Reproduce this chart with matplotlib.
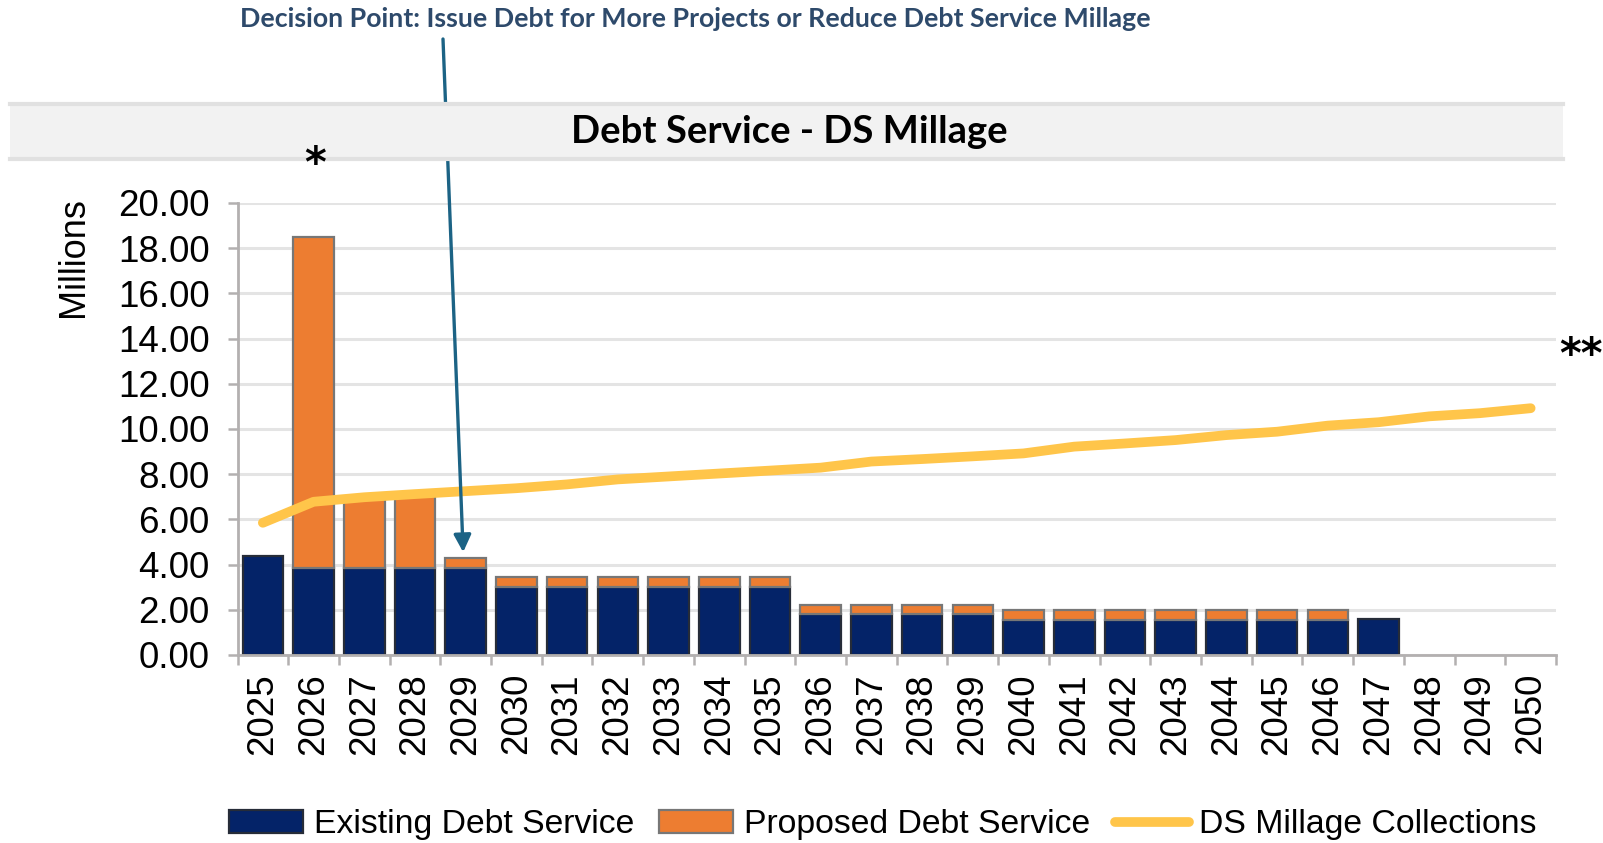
import matplotlib
matplotlib.use("Agg")
import matplotlib.pyplot as plt
from matplotlib.patches import Rectangle, Patch
from matplotlib.lines import Line2D
import numpy as np

# ---- data (millions) ----
years = [str(y) for y in range(2025, 2051)]
existing_ds = [4.40, 3.85, 3.85, 3.85, 3.85,
               3.00, 3.00, 3.00, 3.00, 3.00, 3.00,
               1.80, 1.80, 1.80, 1.80,
               1.55, 1.55, 1.55, 1.55, 1.55, 1.55, 1.55,
               1.60, 0.0, 0.0, 0.0]
proposed_ds = [0.0, 14.65, 3.10, 3.20, 0.42,
               0.46, 0.46, 0.46, 0.46, 0.46, 0.46,
               0.43, 0.43, 0.43, 0.43,
               0.43, 0.43, 0.43, 0.43, 0.43, 0.43, 0.43,
               0.0, 0.0, 0.0, 0.0]
millage_collections = [5.85, 6.78, 6.98, 7.12, 7.25, 7.38, 7.55, 7.77, 7.90, 8.03,
                       8.16, 8.29, 8.56, 8.67, 8.79, 8.92, 9.22, 9.36, 9.51, 9.73,
                       9.88, 10.15, 10.30, 10.56, 10.70, 10.92]
y_ticks = [0, 2, 4, 6, 8, 10, 12, 14, 16, 18, 20]

NAVY = "#042368"
NAVY_EDGE = "#262C38"
ORANGE = "#ED7D31"
ORANGE_EDGE = "#777777"
GOLD = "#FFC54A"
GRID = "#E4E4E4"
AXIS = "#B3B0B0"

W, H = 1603, 843
fig = plt.figure(figsize=(W / 100, H / 100), dpi=100)
fig.patch.set_facecolor("white")

ax = fig.add_axes([237.5 / W, 1 - 655 / H, (1556 - 237.5) / W, (655 - 203) / H])

x = np.arange(len(years))
ex = np.array(existing_ds)
pr = np.array(proposed_ds)
bw = 0.8

sel = ex > 0
ax.bar(x[sel], ex[sel], width=bw, color=NAVY, edgecolor=NAVY_EDGE, linewidth=1.6, zorder=3)
sel = pr > 0
ax.bar(x[sel], pr[sel], width=bw, bottom=ex[sel], color=ORANGE, edgecolor=ORANGE_EDGE,
       linewidth=1.6, zorder=3)
ax.plot(x, millage_collections, color=GOLD, linewidth=7, solid_capstyle="round",
        solid_joinstyle="round", zorder=4)

ax.set_xlim(-0.5, len(years) - 0.5)
ax.set_ylim(0, 20)
ax.set_yticks(y_ticks)
ax.set_yticklabels([f"{v:.2f}" for v in y_ticks])
ax.set_xticks(x)
ax.set_xticklabels(years, rotation=90)
ax.set_xticks(np.arange(-0.5, len(years), 1.0), minor=True)

font = "Liberation Sans"
for lab in ax.get_yticklabels() + ax.get_xticklabels():
    lab.set_fontfamily(font)
    lab.set_fontsize(26.5)
    lab.set_color("black")

ax.tick_params(axis="x", which="major", length=0, pad=13)
ax.tick_params(axis="x", which="minor", length=7, width=1.8, color=AXIS)
ax.tick_params(axis="y", which="major", length=7, width=1.8, color=AXIS, pad=13)

ax.grid(axis="y", color=GRID, linewidth=2.2, zorder=0)
ax.set_axisbelow(True)
for side in ("top", "right"):
    ax.spines[side].set_visible(False)
for side in ("left", "bottom"):
    ax.spines[side].set_color(AXIS)
    ax.spines[side].set_linewidth(2.0)
    ax.spines[side].set_zorder(5)

fig.text(73 / W, 1 - 257 / H, "Millions", rotation=90, ha="center", va="center",
         fontfamily=font, fontsize=26, color="black")

# title band
fig.patches.append(Rectangle((10 / W, 1 - 159 / H), (1563 - 10) / W, 56 / H,
                             transform=fig.transFigure, facecolor="#F2F2F2",
                             edgecolor="none", zorder=0))
for yy in (103.5, 158.5):
    fig.add_artist(Line2D([10 / W, 1563 / W], [1 - yy / H, 1 - yy / H],
                          color="#E1E1E1", linewidth=3, zorder=1))
fig.text(789 / W, 1 - 132 / H, "Debt Service - DS Millage", ha="center", va="center",
         fontfamily="Lato", fontweight="bold", fontsize=27.5, color="black")

# decision annotation
fig.text(695 / W, 1 - 19 / H,
         "Decision Point: Issue Debt for More Projects or Reduce Debt Service Millage",
         ha="center", va="center", fontfamily="Lato", fontweight="bold", fontsize=19.3,
         color="#2E4A6B")
ax.annotate("", xy=(3.95, 4.55), xycoords="data",
            xytext=(443 / W, 1 - 39 / H), textcoords="figure fraction",
            arrowprops=dict(arrowstyle="-|>", color="#1C6385", lw=2.4,
                            mutation_scale=26, shrinkA=0, shrinkB=0),
            zorder=6, annotation_clip=False)

# footnote markers
fig.text(315 / W, 1 - 165 / H, "*", ha="center", va="center", fontfamily="DejaVu Sans",
         fontweight="bold", fontsize=30, color="black")
fig.text(1581 / W, 1 - 356 / H, "**", ha="center", va="center", fontfamily="DejaVu Sans",
         fontweight="bold", fontsize=30, color="black")

# legend
handles = [Patch(facecolor=NAVY, edgecolor=NAVY_EDGE, linewidth=1.6),
           Patch(facecolor=ORANGE, edgecolor=ORANGE_EDGE, linewidth=1.6),
           Line2D([0], [0], color=GOLD, linewidth=7, solid_capstyle="round")]
labels = ["Existing Debt Service", "Proposed Debt Service", "DS Millage Collections"]
fig.legend(handles, labels, loc="center", bbox_to_anchor=(883 / W, 1 - 825 / H), ncol=3,
           frameon=False, prop={"family": font, "size": 24.3}, handlelength=2.2,
           handleheight=0.65, handletextpad=0.3, columnspacing=0.75, borderpad=0)

fig.savefig("out.png", dpi=100, facecolor="white")
